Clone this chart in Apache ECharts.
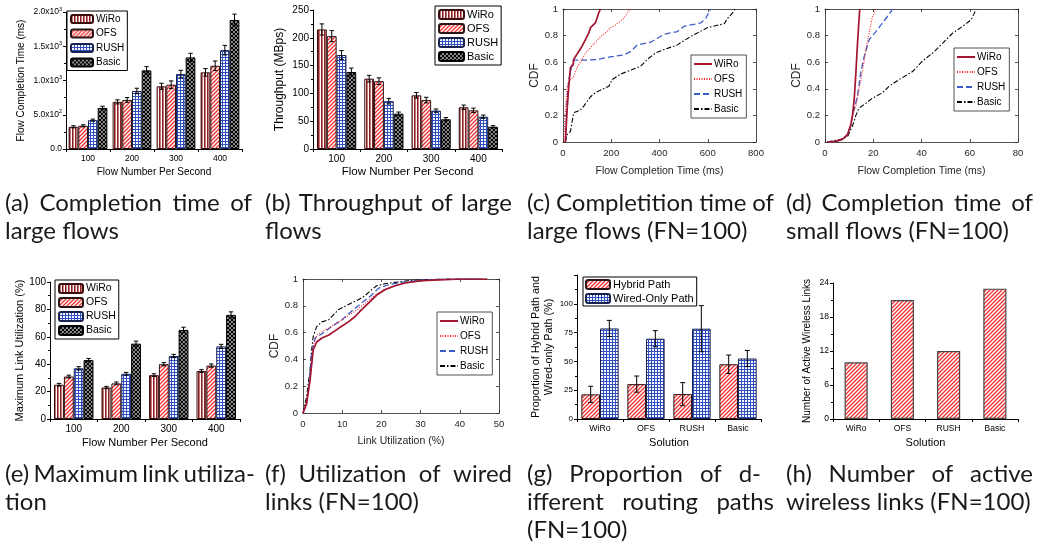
<!DOCTYPE html>
<html><head><meta charset="utf-8">
<script src="https://cdn.jsdelivr.net/npm/echarts@6/dist/echarts.min.js"></script>
<style>html,body{margin:0;padding:0;background:#fff}#c{width:1048px;height:545px}</style>
</head><body><div id="c"></div>
<script>
// ---------------- DATA ----------------
const fnCategories = ['100', '200', '300', '400'];
const solutionCategories = ['WiRo', 'OFS', 'RUSH', 'Basic'];
const methodNames = ['WiRo', 'OFS', 'RUSH', 'Basic'];

// (a) flow completion time of large flows (ms)
const fctWiRo = [324, 688, 915, 1119];
const fctOFS = [339, 717, 939, 1215];
const fctRUSH = [421, 847, 1094, 1443];
const fctBasic = [600, 1148, 1337, 1884];
const fctErrWiRo = [15, 30, 45, 55];
const fctErrOFS = [15, 35, 55, 70];
const fctErrRUSH = [15, 40, 55, 70];
const fctErrBasic = [25, 55, 60, 85];
const fctTickValues = [0, 500, 1000, 1500, 2000];
const fctTickLabels = ['0.0', '5.0x10{s|2}', '1.0x10{s|3}', '1.5x10{s|3}', '2.0x10{s|3}'];

// (b) throughput of large flows (MBps)
const thrWiRo = [215, 126.5, 96.5, 75];
const thrOFS = [203, 122, 88, 69.5];
const thrRUSH = [169, 86, 69, 58];
const thrBasic = [138.5, 63.5, 53.5, 40];
const thrErrWiRo = [10, 6, 5, 4];
const thrErrOFS = [10, 6, 5, 4];
const thrErrRUSH = [8, 5, 3, 3];
const thrErrBasic = [7, 3, 3, 2];

// (c) CDF of completion time of large flows [ms, cdf]
const cdfLargeWiRo = [[10,0],[17,0.24],[24,0.42],[31,0.56],[42,0.58],[44,0.62],[58,0.66],[65,0.68],[79,0.72],[93,0.77],[107,0.82],[114,0.86],[121,0.875],[134,0.895],[141,0.93],[148,0.97],[155,1]];
const cdfLargeOFS = [[3,0],[10,0.24],[17,0.42],[31,0.47],[44,0.49],[58,0.56],[79,0.62],[93,0.67],[114,0.71],[134,0.75],[155,0.79],[176,0.82],[197,0.86],[218,0.88],[238,0.91],[252,0.93],[266,0.97],[280,1]];
const cdfLargeRUSH = [[10,0],[17,0.32],[24,0.47],[37,0.58],[44,0.615],[86,0.615],[141,0.62],[197,0.64],[252,0.655],[280,0.68],[308,0.73],[363,0.75],[391,0.78],[419,0.81],[474,0.83],[502,0.87],[557,0.89],[571,0.895],[592,0.93],[606,0.98],[613,1]];
const cdfLargeBasic = [[10,0],[17,0.055],[31,0.08],[44,0.22],[58,0.23],[72,0.24],[86,0.27],[114,0.34],[134,0.37],[155,0.39],[190,0.42],[204,0.47],[238,0.51],[280,0.54],[322,0.57],[349,0.62],[384,0.67],[419,0.695],[474,0.73],[530,0.795],[557,0.82],[599,0.86],[669,0.89],[682,0.93],[703,0.97],[712,1]];

// (d) CDF of completion time of small flows [ms, cdf]
const cdfSmallWiRo = [[1,0],[4.4,0.005],[7.2,0.02],[9.3,0.055],[10.7,0.13],[11.4,0.2],[12.1,0.32],[12.8,0.52],[13.4,0.72],[14.1,0.92],[14.4,1]];
const cdfSmallOFS = [[1,0],[4.4,0.005],[7.2,0.02],[9.3,0.055],[10.7,0.13],[11.4,0.2],[12.8,0.27],[14.1,0.39],[15.6,0.54],[16.9,0.69],[18.3,0.82],[19.7,0.945],[21.1,1]];
const cdfSmallRUSH = [[1,0],[4.4,0.005],[7.2,0.02],[9.3,0.055],[10.7,0.13],[11.4,0.2],[13.4,0.34],[14.8,0.52],[16.2,0.64],[18.3,0.77],[21.1,0.83],[23.8,0.895],[26.6,0.96],[28,1]];
const cdfSmallBasic = [[1,0],[6.5,0.02],[9.3,0.04],[11.4,0.12],[12.8,0.2],[14.1,0.255],[16.9,0.29],[19.7,0.33],[23.8,0.37],[26.6,0.42],[30.8,0.47],[36.3,0.53],[40.5,0.61],[44.7,0.67],[48.9,0.745],[53,0.82],[57.1,0.87],[60.6,0.92],[62.7,1]];

// (e) maximum link utilization (%)
const mluWiRo = [25, 23, 32, 35];
const mluOFS = [31, 26, 40, 39];
const mluRUSH = [37, 33, 46, 53];
const mluBasic = [43, 55, 65, 76];
const mluErrWiRo = [1, 0.8, 1, 1];
const mluErrOFS = [1, 1, 1.2, 1.2];
const mluErrRUSH = [1.2, 1, 1.2, 1.5];
const mluErrBasic = [1.2, 1.8, 2, 2.2];

// (f) CDF of utilization of wired links [%, cdf]
const utilWiRo = [[0,0],[0.9,0.07],[1.8,0.245],[2.6,0.47],[3.5,0.53],[4.8,0.56],[6.5,0.58],[9,0.63],[11.6,0.68],[13.3,0.72],[14.9,0.77],[16.7,0.82],[18.8,0.88],[20.9,0.92],[23.5,0.95],[26,0.97],[30.3,0.987],[36.2,0.995],[40.5,1],[47,1]];
const utilOFS = [[0,0],[0.9,0.07],[1.8,0.245],[2.6,0.5],[3.5,0.58],[5.6,0.62],[8.2,0.66],[10.7,0.71],[13.3,0.76],[15.9,0.82],[18.4,0.88],[20.9,0.925],[24.3,0.957],[28,0.98],[33,0.993],[40,1],[47,1]];
const utilRUSH = [[0,0],[0.9,0.07],[1.5,0.2],[2.2,0.445],[3.1,0.56],[4.8,0.59],[7.3,0.645],[9.9,0.695],[12.4,0.76],[14.9,0.82],[17.5,0.88],[19.2,0.93],[21.8,0.957],[25.2,0.975],[30,0.99],[36,1],[45,1]];
const utilBasic = [[0,0],[0.9,0.12],[1.8,0.32],[2.2,0.47],[2.6,0.57],[3.5,0.645],[4.8,0.68],[6.5,0.695],[7.7,0.73],[9,0.77],[11.6,0.81],[14.1,0.845],[15.8,0.875],[17.5,0.92],[18.8,0.95],[20.9,0.965],[23.5,0.975],[27.7,0.99],[32,0.995],[36.2,1],[47,1]];

// (g) proportion of hybrid / wired-only paths (%)
const hybridPath = [21.4, 30.3, 21.6, 47.5];
const hybridErr = [7, 7, 10, 8];
const wiredPath = [78.6, 69.7, 78.4, 52.5];
const wiredErr = [7, 7, 20, 7];

// (h) number of active wireless links
const activeWireless = [10, 21, 12, 23];

// ---------------- STYLE HELPERS ----------------
const FONT = 'Liberation Sans';
const CAP_FONT = 'Lato';

function makePattern(kind) {
  const c = document.createElement('canvas');
  const g = c.getContext('2d');
  if (kind === 'vstripe') {
    c.width = 3; c.height = 4;
    g.fillStyle = '#fff'; g.fillRect(0, 0, 3, 4);
    g.fillStyle = '#8a2024'; g.fillRect(0, 0, 1, 4);
    g.fillStyle = '#c27a7a'; g.fillRect(1, 0, 1, 4);
  } else if (kind === 'diag') {
    c.width = 4; c.height = 4;
    g.fillStyle = '#fff'; g.fillRect(0, 0, 4, 4);
    g.strokeStyle = '#f03030'; g.lineWidth = 1.3;
    g.beginPath();
    g.moveTo(-1, 5); g.lineTo(5, -1);
    g.moveTo(-1, 1); g.lineTo(1, -1);
    g.moveTo(3, 5); g.lineTo(5, 3);
    g.stroke();
  } else if (kind === 'grid') {
    c.width = 3; c.height = 3;
    g.fillStyle = '#fff'; g.fillRect(0, 0, 3, 3);
    g.fillStyle = '#2f4fc0'; g.fillRect(0, 0, 3, 1); g.fillRect(0, 0, 1, 3);
  } else {
    c.width = 4; c.height = 4;
    g.fillStyle = '#fff'; g.fillRect(0, 0, 4, 4);
    g.strokeStyle = '#000'; g.lineWidth = 1.4;
    g.beginPath();
    g.moveTo(-1, -1); g.lineTo(5, 5);
    g.moveTo(-1, 3); g.lineTo(1, 5);
    g.moveTo(3, -1); g.lineTo(5, 1);
    g.moveTo(-1, 5); g.lineTo(5, -1);
    g.moveTo(-1, 1); g.lineTo(1, -1);
    g.moveTo(3, 5); g.lineTo(5, 3);
    g.stroke();
  }
  return { image: c, repeat: 'repeat' };
}
const methodStyle = {
  WiRo: { color: makePattern('vstripe'), borderColor: '#3a0c0c' },
  OFS: { color: makePattern('diag'), borderColor: '#2a1515' },
  RUSH: { color: makePattern('grid'), borderColor: '#1a2250' },
  Basic: { color: makePattern('check'), borderColor: '#000' }
};
const matlabLine = {
  WiRo: { color: '#a2142f', width: 1.7, type: 'solid' },
  OFS: { color: '#ff2020', width: 1.1, type: [1, 1.5] },
  RUSH: { color: '#3c5cc8', width: 1.3, type: [6, 3] },
  Basic: { color: '#000', width: 1.1, type: [5, 2, 1.5, 2] }
};

const grids = [], xAxes = [], yAxes = [], series = [], legends = [];
function addGrid(l, t, w, h) {
  grids.push({ left: l, top: t, width: w, height: h, containLabel: false, outerBoundsMode: 'none' });
  return grids.length - 1;
}
const legendFormatter = n => n.split('|')[1];

function errorBars(xi, yi, values, errs, k, n, gapFrac, cap) {
  return {
    type: 'custom', xAxisIndex: xi, yAxisIndex: yi, z: 10, silent: true, animation: false,
    encode: { x: 0, y: 1 },
    data: values.map((v, i) => [i, v, errs[i]]),
    renderItem: function (params, api) {
      const xv = api.value(0), v = api.value(1), e = api.value(2);
      const band = api.size([1, 0])[0];
      const used = band * (1 - gapFrac);
      const bw = used / n;
      const c = api.coord([xv, v]);
      const cx = c[0] - used / 2 + bw * (k + 0.5);
      const yt = api.coord([xv, v + e])[1], yb = api.coord([xv, v - e])[1];
      const st = { stroke: '#000', lineWidth: 1 };
      return { type: 'group', children: [
        { type: 'line', shape: { x1: cx, y1: yt, x2: cx, y2: yb }, style: st },
        { type: 'line', shape: { x1: cx - cap, y1: yt, x2: cx + cap, y2: yt }, style: st },
        { type: 'line', shape: { x1: cx - cap, y1: yb, x2: cx + cap, y2: yb }, style: st }
      ] };
    }
  };
}

function originCatX(gi, cats, name, nameGap, labelSize, nameSize) {
  xAxes.push({
    type: 'category', gridIndex: gi, data: cats, name, nameLocation: 'middle', nameGap,
    nameTextStyle: { fontFamily: FONT, fontSize: nameSize, color: '#000' },
    axisLine: { show: true, onZero: false, lineStyle: { color: '#000', width: 1 } },
    axisTick: { show: true, length: 3, lineStyle: { color: '#000' } },
    axisLabel: { fontFamily: FONT, fontSize: labelSize, color: '#000', margin: 5 },
    splitLine: { show: false }
  });
  return xAxes.length - 1;
}
function originValY(gi, max, interval, name, nameGap, labelSize, nameSize, extra) {
  yAxes.push(Object.assign({
    type: 'value', gridIndex: gi, min: 0, max, interval, name, nameLocation: 'middle', nameGap,
    nameTextStyle: { fontFamily: FONT, fontSize: nameSize, color: '#000' },
    axisLine: { show: true, lineStyle: { color: '#000', width: 1 } },
    axisTick: { show: true, inside: false, length: 3, lineStyle: { color: '#000' } },
    minorTick: { show: true, splitNumber: 2, length: 2, lineStyle: { color: '#000' } },
    axisLabel: { fontFamily: FONT, fontSize: labelSize, color: '#000', margin: 4 },
    splitLine: { show: false }
  }, extra || {}));
  return yAxes.length - 1;
}
function originLegend(prefix, names, left, top, fontSize, iw, ih, gap) {
  legends.push({
    orient: 'vertical', left, top, itemWidth: iw, itemHeight: ih, itemGap: gap,
    borderColor: '#000', borderWidth: 1, borderRadius: 0, backgroundColor: '#fff',
    padding: [3, 3, 3, 3], selectedMode: false,
    textStyle: { fontFamily: FONT, fontSize, color: '#000', padding: [0, 0, 0, -2] },
    data: names.map(n => prefix + '|' + n), formatter: legendFormatter
  });
}

function groupedBarPanel(prefix, rect, cats, valueSets, errSets, gap, yMax, yInt, yName, yNameGap, xName, xNameGap, fonts, yExtra, legendCfg) {
  const gi = addGrid(...rect);
  const xi = originCatX(gi, cats, xName, xNameGap, fonts.label, fonts.name);
  const yi = originValY(gi, yMax, yInt, yName, yNameGap, fonts.ylabel || fonts.label, fonts.yname || fonts.name, yExtra);
  methodNames.forEach((m, k) => {
    series.push({
      type: 'bar', name: prefix + '|' + m, xAxisIndex: xi, yAxisIndex: yi, data: valueSets[k],
      barGap: '0%', barCategoryGap: (gap * 100) + '%', animation: false,
      itemStyle: { color: methodStyle[m].color, borderColor: methodStyle[m].borderColor, borderWidth: 1 }
    });
    series.push(errorBars(xi, yi, valueSets[k], errSets[k], k, 4, gap, 2.2));
  });
  originLegend(prefix, methodNames, legendCfg.left, legendCfg.top, legendCfg.font, legendCfg.iw, legendCfg.ih, legendCfg.gap);
}

function matlabPanel(prefix, rect, xMin, xMax, xInt, xName, xNameGap, yNameGap, lineSets, legendCfg) {
  const gi = addGrid(...rect);
  const ax = { color: '#262626', width: 0.8 };
  const tickCommon = { show: true, inside: true, length: 3, lineStyle: ax };
  xAxes.push({ type: 'value', gridIndex: gi, min: xMin, max: xMax, interval: xInt, position: 'bottom',
    name: xName, nameLocation: 'middle', nameGap: xNameGap,
    nameTextStyle: { fontFamily: FONT, fontSize: 10.5, color: '#262626' },
    axisLine: { show: true, onZero: false, lineStyle: ax }, axisTick: tickCommon,
    axisLabel: { fontFamily: FONT, fontSize: 9.5, color: '#262626', margin: 6 }, splitLine: { show: false } });
  const xi = xAxes.length - 1;
  xAxes.push({ type: 'value', gridIndex: gi, min: xMin, max: xMax, interval: xInt, position: 'top',
    axisLine: { show: true, onZero: false, lineStyle: ax }, axisTick: tickCommon,
    axisLabel: { show: false }, splitLine: { show: false } });
  yAxes.push({ type: 'value', gridIndex: gi, min: 0, max: 1, interval: 0.2, position: 'left',
    name: 'CDF', nameLocation: 'middle', nameGap: yNameGap,
    nameTextStyle: { fontFamily: FONT, fontSize: 12, color: '#262626' },
    axisLine: { show: true, onZero: false, lineStyle: ax }, axisTick: tickCommon,
    axisLabel: { fontFamily: FONT, fontSize: 9.5, color: '#262626', margin: 5,
      formatter: v => (v === 0 || v === 1) ? String(v) : v.toFixed(1) }, splitLine: { show: false } });
  const yi = yAxes.length - 1;
  yAxes.push({ type: 'value', gridIndex: gi, min: 0, max: 1, interval: 0.2, position: 'right',
    axisLine: { show: true, onZero: false, lineStyle: ax }, axisTick: tickCommon,
    axisLabel: { show: false }, splitLine: { show: false } });
  methodNames.forEach((m, k) => {
    const ls = matlabLine[m];
    series.push({ type: 'line', name: prefix + '|' + m, xAxisIndex: xi, yAxisIndex: yi, data: lineSets[k],
      symbol: 'none', animation: false, z: 4 - k + 2,
      lineStyle: { color: ls.color, width: ls.width, type: ls.type }, itemStyle: { color: ls.color } });
  });
  legends.push({ orient: 'vertical', left: legendCfg.left, top: legendCfg.top, itemWidth: 18, itemHeight: 10, itemGap: legendCfg.gap,
    borderColor: '#262626', borderWidth: 0.8, borderRadius: 0, backgroundColor: '#fff', padding: [4, 4, 4, 2],
    selectedMode: false, textStyle: { fontFamily: FONT, fontSize: 10, color: '#000', padding: [0, 0, 0, -3] },
    itemStyle: { opacity: 0, borderWidth: 0 },
    data: methodNames.map(n => prefix + '|' + n), formatter: legendFormatter });
}

// ---------------- PANELS ----------------
// (a)
groupedBarPanel('a', [66, 12, 176, 137], fnCategories,
  [fctWiRo, fctOFS, fctRUSH, fctBasic], [fctErrWiRo, fctErrOFS, fctErrRUSH, fctErrBasic],
  0.12, 2000, 500, 'Flow Completion Time (ms)', 40, 'Flow Number Per Second', 18,
  { label: 8.5, name: 10 },
  { axisLabel: { fontFamily: FONT, fontSize: 8.5, color: '#000', margin: 4, lineHeight: 12,
      formatter: v => { const i = fctTickValues.indexOf(v); return i < 0 ? '' : fctTickLabels[i]; },
      rich: { s: { fontFamily: FONT, fontSize: 5.5, lineHeight: 6, verticalAlign: 'top', color: '#000' } } } },
  { left: 67, top: 11, font: 10, iw: 22, ih: 8, gap: 4.5 });

// (b)
groupedBarPanel('b', [313, 10, 189, 139], fnCategories,
  [thrWiRo, thrOFS, thrRUSH, thrBasic], [thrErrWiRo, thrErrOFS, thrErrRUSH, thrErrBasic],
  0.17, 250, 50, 'Throughput (MBps)', 27, 'Flow Number Per Second', 17,
  { label: 10, name: 11.5, yname: 12 }, null,
  { left: 435, top: 6, font: 11, iw: 25, ih: 9, gap: 3 });

// (c)
matlabPanel('c', [563, 9, 193, 133], 0, 800, 200, 'Flow Completion Time (ms)', 24, 10,
  [cdfLargeWiRo, cdfLargeOFS, cdfLargeRUSH, cdfLargeBasic], { left: 691, top: 55, gap: 5 });

// (d)
matlabPanel('d', [825, 9, 193, 133], 0, 80, 20, 'Flow Completion Time (ms)', 24, 10,
  [cdfSmallWiRo, cdfSmallOFS, cdfSmallRUSH, cdfSmallBasic], { left: 954, top: 48, gap: 5 });

// (e)
groupedBarPanel('e', [50, 282, 190, 137], fnCategories,
  [mluWiRo, mluOFS, mluRUSH, mluBasic], [mluErrWiRo, mluErrOFS, mluErrRUSH, mluErrBasic],
  0.17, 100, 20, 'Maximum Link Utilization (%)', 25, 'Flow Number Per Second', 18,
  { label: 10, name: 11 }, null,
  { left: 55, top: 280, font: 10.5, iw: 24, ih: 9, gap: 3 });

// (f)
matlabPanel('f', [303, 279, 196, 134], 0, 50, 10, 'Link Utilization (%)', 23, 6,
  [utilWiRo, utilOFS, utilRUSH, utilBasic], { left: 437, top: 312, gap: 5 });

// (g)
(function () {
  const gi = addGrid(577, 275, 184, 144);
  const xi = originCatX(gi, solutionCategories, 'Solution', 18, 8.8, 11);
  const yi = originValY(gi, 125, 25, 'Proportion of Hybrid Path and\nWired-only Path (%)', 13, 8, 10.8,
    { axisLabel: { fontFamily: FONT, fontSize: 8, color: '#000', margin: 4, formatter: v => v > 100 ? '' : String(v) },
      nameTextStyle: { fontFamily: FONT, fontSize: 10.8, color: '#000', lineHeight: 13 } });
  const gap = 0.19;
  series.push({ type: 'bar', name: 'g|Hybrid Path', xAxisIndex: xi, yAxisIndex: yi, data: hybridPath,
    barGap: '0%', barCategoryGap: '19%', animation: false,
    itemStyle: { color: methodStyle.OFS.color, borderColor: '#2a1515', borderWidth: 1 } });
  series.push(errorBars(xi, yi, hybridPath, hybridErr, 0, 2, gap, 2.5));
  series.push({ type: 'bar', name: 'g|Wired-Only Path', xAxisIndex: xi, yAxisIndex: yi, data: wiredPath,
    barGap: '0%', barCategoryGap: '19%', animation: false,
    itemStyle: { color: methodStyle.RUSH.color, borderColor: '#1a2250', borderWidth: 1 } });
  series.push(errorBars(xi, yi, wiredPath, wiredErr, 1, 2, gap, 2.5));
  legends.push({ orient: 'vertical', left: 583, top: 277, itemWidth: 24, itemHeight: 9, itemGap: 3,
    borderColor: '#000', borderWidth: 1, borderRadius: 0, backgroundColor: '#fff', padding: [2, 3, 2, 2],
    selectedMode: false, textStyle: { fontFamily: FONT, fontSize: 11, color: '#000', padding: [0, 0, 0, -2] },
    data: ['g|Hybrid Path', 'g|Wired-Only Path'], formatter: legendFormatter });
})();

// (h)
(function () {
  const gi = addGrid(833, 283, 185, 136);
  const xi = originCatX(gi, solutionCategories, 'Solution', 18, 8.5, 11);
  const yi = originValY(gi, 24, 6, 'Number of Active Wireless Links', 21, 8.5, 10);
  series.push({ type: 'bar', name: 'h|Active', xAxisIndex: xi, yAxisIndex: yi, data: activeWireless,
    barWidth: '50%', animation: false,
    itemStyle: { color: methodStyle.OFS.color, borderColor: '#444', borderWidth: 1.2 } });
})();

// ---------------- CAPTIONS ----------------
const capSize = 24;
const capCols = [5, 265, 527, 786];
const capWidth = 247;
const capRow1 = [203, 231];
const capRow2 = [474, 502, 530];
const captionSpecs = [
  { col: 0, ys: capRow1, lines: [['(a) Completion time of', 1], ['large flows', 0]] },
  { col: 1, ys: capRow1, lines: [['(b) Throughput of large', 1], ['flows', 0]] },
  { col: 2, ys: capRow1, lines: [['(c) Completition time of', 1], ['large flows (FN=100)', 0]] },
  { col: 3, ys: capRow1, lines: [['(d) Completion time of', 1], ['small flows (FN=100)', 0]] },
  { col: 0, ys: capRow2, lines: [['(e) Maximum link utiliza-', 1], ['tion', 0]] },
  { col: 1, ys: capRow2, lines: [['(f) Utilization of wired', 1], ['links (FN=100)', 0]] },
  { col: 2, ys: capRow2, lines: [['(g) Proportion of d-', 1, 234], ['ifferent routing paths', 1], ['(FN=100)', 0]] },
  { col: 3, ys: capRow2, lines: [['(h) Number of active', 1], ['wireless links (FN=100)', 0]] }
];
const mctx = document.createElement('canvas').getContext('2d');
mctx.font = capSize + 'px ' + CAP_FONT;
const capElements = [];
function capText(t, x, y) {
  capElements.push({ type: 'text', x, y, silent: true,
    style: { text: t, fontSize: capSize, fontFamily: CAP_FONT, fill: '#1a1a1a', align: 'left', verticalAlign: 'middle' } });
}
captionSpecs.forEach(spec => {
  const x0 = capCols[spec.col];
  spec.lines.forEach((ln, li) => {
    const y = spec.ys[li];
    if (!ln[1]) { capText(ln[0], x0, y); return; }
    const w = ln[2] || capWidth;
    const words = ln[0].split(' ');
    const ws = words.map(t => mctx.measureText(t).width);
    const sum = ws.reduce((a, b) => a + b, 0);
    const minGap = mctx.measureText(' ').width * 0.7;
    const gap = Math.max(minGap, (w - sum) / (words.length - 1));
    let x = x0;
    words.forEach((t, i) => { capText(t, x, y); x += ws[i] + gap; });
  });
});

const chart = echarts.init(document.getElementById('c'), null, { renderer: 'canvas' });
chart.setOption({
  animation: false,
  backgroundColor: '#fff',
  textStyle: { fontFamily: FONT },
  grid: grids, xAxis: xAxes, yAxis: yAxes, series, legend: legends,
  graphic: { elements: capElements }
});
</script></body></html>
